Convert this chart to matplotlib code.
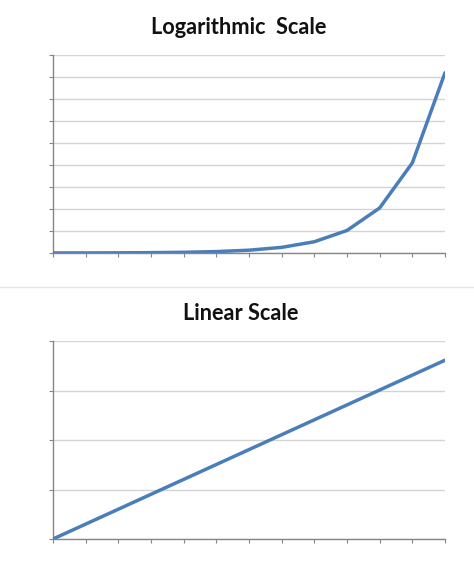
import numpy as np
import matplotlib
matplotlib.use("Agg")
import matplotlib.pyplot as plt
from matplotlib.lines import Line2D

# Data
categories = list(range(13))
log_values = [1, 2, 4, 8, 16, 32, 64, 128, 256, 512, 1024, 2048, 4096]
lin_values = [0.0, 0.301, 0.602, 0.903, 1.204, 1.505, 1.806, 2.107, 2.408, 2.709, 3.010, 3.311, 3.612]
top_yticks = [0, 500, 1000, 1500, 2000, 2500, 3000, 3500, 4000, 4500]
bottom_yticks = [0, 1, 2, 3, 4]
titles = ["Logarithmic  Scale", "Linear Scale"]

W, H = 474, 586
fig = plt.figure(figsize=(W / 100, H / 100), dpi=100)

line_color = "#4a7ebb"
grid_color = "#d4d4d4"
spine_color = "#868686"

def make_axes(rect, xs, ys, yticks):
    ax = fig.add_axes(rect)
    ax.plot(xs, ys, color=line_color, lw=2.5, solid_capstyle="round", zorder=3)
    ax.set_xlim(xs[0], xs[-1])
    ax.set_ylim(yticks[0], yticks[-1])
    ax.set_xticks(xs)
    ax.set_yticks(yticks)
    ax.set_xticklabels([])
    ax.set_yticklabels([])
    ax.grid(axis="y", color=grid_color, lw=1.0)
    ax.set_axisbelow(True)
    for s in ["top", "right"]:
        ax.spines[s].set_visible(False)
    for s in ["left", "bottom"]:
        ax.spines[s].set_color(spine_color)
        ax.spines[s].set_linewidth(1.0)
    ax.tick_params(axis="both", direction="out", length=3, width=0.8, color=spine_color)
    ax.spines["bottom"].set_zorder(4)
    return ax

def frac_rect(left, top, right, bottom):
    return [left / W, 1 - bottom / H, (right - left) / W, (bottom - top) / H]

ax1 = make_axes(frac_rect(53, 55, 445, 253), categories, log_values, top_yticks)
ax2 = make_axes(frac_rect(53, 341, 445, 539), categories, lin_values, bottom_yticks)

title_font = ["Lato", "DejaVu Sans"]
fig.text(239 / W, 1 - 27 / H, titles[0], ha="center", va="center",
         fontsize=15.7, fontweight="bold", family=title_font, color="#111111")
fig.text(241 / W, 1 - 313 / H, titles[1], ha="center", va="center",
         fontsize=15.7, fontweight="bold", family=title_font, color="#111111")

# faint separator between the two charts
fig.add_artist(Line2D([0, 1], [1 - 287 / H, 1 - 287 / H], transform=fig.transFigure,
                      color="#e6e6e6", lw=1.0))

fig.savefig("out.png", dpi=100, facecolor="white")
